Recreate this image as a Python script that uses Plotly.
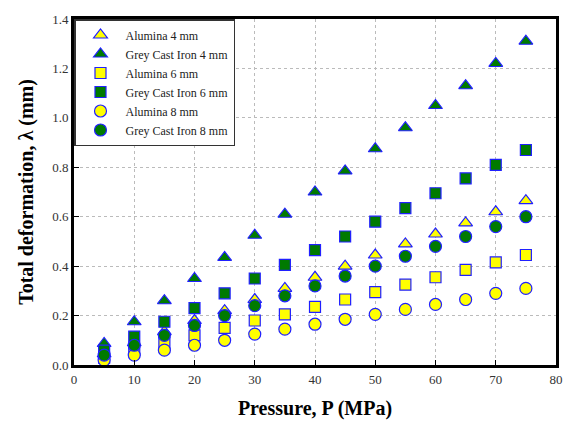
import plotly.graph_objects as go

pressure = [5, 10, 15, 20, 25, 30, 35, 40, 45, 50, 55, 60, 65, 70, 75]
alumina_4 = [0.045, 0.09, 0.135, 0.18, 0.22, 0.265, 0.31, 0.355, 0.40, 0.445, 0.49, 0.53, 0.575, 0.62, 0.665]
gci_4 = [0.087, 0.175, 0.26, 0.35, 0.435, 0.525, 0.61, 0.70, 0.785, 0.875, 0.96, 1.05, 1.13, 1.22, 1.31]
alumina_6 = [0.03, 0.06, 0.09, 0.12, 0.15, 0.18, 0.205, 0.235, 0.265, 0.295, 0.325, 0.355, 0.385, 0.415, 0.445]
gci_6 = [0.058, 0.115, 0.175, 0.23, 0.29, 0.35, 0.405, 0.465, 0.52, 0.58, 0.635, 0.695, 0.755, 0.81, 0.87]
alumina_8 = [0.02, 0.04, 0.06, 0.08, 0.10, 0.125, 0.145, 0.165, 0.185, 0.205, 0.225, 0.245, 0.265, 0.29, 0.31]
gci_8 = [0.04, 0.08, 0.12, 0.16, 0.20, 0.24, 0.28, 0.32, 0.36, 0.40, 0.44, 0.48, 0.52, 0.56, 0.60]

series = [
    ("Alumina 4 mm", alumina_4, "triangle-up", "#ffff00"),
    ("Grey Cast Iron 4 mm", gci_4, "triangle-up", "#007a00"),
    ("Alumina 6 mm", alumina_6, "square", "#ffff00"),
    ("Grey Cast Iron 6 mm", gci_6, "square", "#007a00"),
    ("Alumina 8 mm", alumina_8, "circle", "#ffff00"),
    ("Grey Cast Iron 8 mm", gci_8, "circle", "#007a00"),
]

fig = go.Figure()
for name, vals, sym, col in series:
    fig.add_trace(go.Scatter(
        x=pressure, y=vals, mode="markers", name=name,
        marker=dict(symbol=sym, size=12 if sym != "square" else 11, color=col,
                    line=dict(color="#2020ff", width=1.2)),
    ))

serif = "Liberation Serif, Times New Roman, serif"
fig.update_layout(
    width=575, height=432,
    margin=dict(l=74, r=12, t=14, b=67),
    paper_bgcolor="white", plot_bgcolor="white",
    font=dict(family=serif, color="#333333", size=13),
    showlegend=True,
    legend=dict(x=0, y=1, xanchor="left", yanchor="top",
                bgcolor="white", bordercolor="#333333", borderwidth=1.5,
                font=dict(family=serif, size=12, color="#222222"),
                tracegroupgap=0, itemwidth=40),
    xaxis=dict(range=[0, 80], dtick=10, tick0=0,
               showline=True, linecolor="black", linewidth=3, mirror=True,
               ticks="inside", ticklen=5, tickcolor="black",
               showgrid=True, gridcolor="#bbbbbb", griddash="dot", gridwidth=1,
               zeroline=False,
               title=dict(text="<b>Pressure, P (MPa)</b>",
                          font=dict(family=serif, size=20, color="black"), standoff=16)),
    yaxis=dict(range=[0, 1.4], dtick=0.2, tick0=0, tickformat=".1f",
               showline=True, linecolor="black", linewidth=3, mirror=True,
               ticks="inside", ticklen=5, tickcolor="black",
               showgrid=True, gridcolor="#bbbbbb", griddash="dot", gridwidth=1,
               zeroline=False,
               title=dict(text="<b>Total deformation, λ (mm)</b>",
                          font=dict(family=serif, size=20, color="black"), standoff=14)),
)

fig.write_html("out.html")
